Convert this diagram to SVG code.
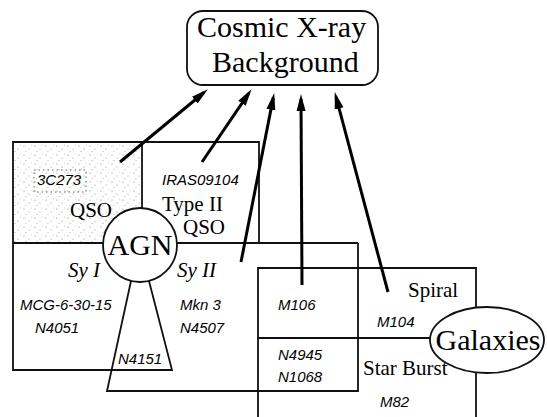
<svg xmlns="http://www.w3.org/2000/svg" width="547" height="417" viewBox="0 0 547 417">
<style>
.ln{fill:none;stroke:#111;stroke-width:1.8;stroke-linejoin:miter}
.sh{fill:#fff;stroke:#111;stroke-width:1.8}
.ar{fill:none;stroke:#000;stroke-width:3}
.big{font-family:"Liberation Serif","Times New Roman",serif;font-size:30px;fill:#000}
.mid{font-family:"Liberation Serif","Times New Roman",serif;font-size:21px;fill:#000}
.it{font-family:"Liberation Serif","Times New Roman",serif;font-size:21px;font-style:italic;fill:#000}
.lab{font-family:"Liberation Sans",Arial,sans-serif;font-size:15px;font-style:italic;fill:#000}
</style>
<defs>
<marker id="ah" markerUnits="userSpaceOnUse" markerWidth="17" markerHeight="10" viewBox="0 0 17 10" refX="12" refY="5" orient="auto">
<path d="M0,0.5 L17,5 L0,9.5 z" fill="#000"/>
</marker>
<pattern id="stip" width="11" height="9" patternUnits="userSpaceOnUse">
<circle cx="2" cy="2" r="0.6" fill="#444"/>
<circle cx="7" cy="5" r="0.5" fill="#444"/>
<circle cx="4" cy="7.5" r="0.5" fill="#666"/>
<circle cx="9.5" cy="1" r="0.4" fill="#666"/>
</pattern>
</defs>

<g id="cxb">
<rect class="sh" x="187" y="11" width="191" height="74" rx="16" ry="16"/>
<text class="big" x="197" y="37">Cosmic X-ray</text>
<text class="big" x="212" y="72">Background</text>
</g>

<g id="agn-cells">
<rect x="14" y="143" width="128" height="100" fill="url(#stip)" opacity="0.7"/>
<rect x="34" y="170" width="52" height="22" fill="none" stroke="#666" stroke-width="1" stroke-dasharray="1.5 3"/>
<path class="ln" d="M13,243 L13,142 L259,142 L259,243"/>
<path class="ln" d="M142,142 L142,209"/>
<path class="ln" d="M13,243 L104,243 M176,243 L358,243"/>
<path class="ln" d="M13,243 L13,370 L172,370 L149,281"/>
<path class="ln" d="M131,281 L107,391 L358,391 L358,243"/>
<text class="lab" x="37" y="185">3C273</text>
<text class="mid" x="70" y="217">QSO</text>
<text class="lab" x="162" y="185">IRAS09104</text>
<text class="mid" x="162" y="211">Type II</text>
<text class="mid" x="183" y="234">QSO</text>
<text class="it" x="68" y="277">Sy I</text>
<text class="it" x="177" y="277">Sy II</text>
<text class="lab" x="20" y="310">MCG-6-30-15</text>
<text class="lab" x="35" y="333">N4051</text>
<text class="lab" x="180" y="310">Mkn 3</text>
<text class="lab" x="180" y="333">N4507</text>
<text class="lab" x="118" y="364">N4151</text>
</g>

<g id="agn">
<circle class="sh" cx="140" cy="245" r="37"/>
<text class="big" x="140" y="255" text-anchor="middle">AGN</text>
</g>

<g id="galaxy-cells">
<path class="ln" d="M258,417 L258,268 L476,268 L476,308"/>
<path class="ln" d="M476,372 L476,417"/>
<path class="ln" d="M258,338 L431,338"/>
<text class="lab" x="278" y="310">M106</text>
<text class="lab" x="278" y="360">N4945</text>
<text class="lab" x="278" y="382">N1068</text>
<text class="mid" x="408" y="297">Spiral</text>
<text class="lab" x="377" y="327">M104</text>
<text class="mid" x="363" y="375">Star Burst</text>
<text class="lab" x="380" y="407">M82</text>
</g>

<g id="galaxies">
<ellipse class="sh" cx="487" cy="340" rx="57" ry="33"/>
<text class="big" x="488" y="350" text-anchor="middle">Galaxies</text>
</g>

<g id="connectors">
<line class="ar" x1="120" y1="162" x2="204" y2="92.5" marker-end="url(#ah)"/>
<line class="ar" x1="202" y1="162" x2="248.7" y2="93.3" marker-end="url(#ah)"/>
<line class="ar" x1="241" y1="262" x2="273.2" y2="97.9" marker-end="url(#ah)"/>
<line class="ar" x1="302" y1="285" x2="301" y2="99" marker-end="url(#ah)"/>
<line class="ar" x1="388" y1="292" x2="336" y2="96.9" marker-end="url(#ah)"/>
</g>
</svg>
